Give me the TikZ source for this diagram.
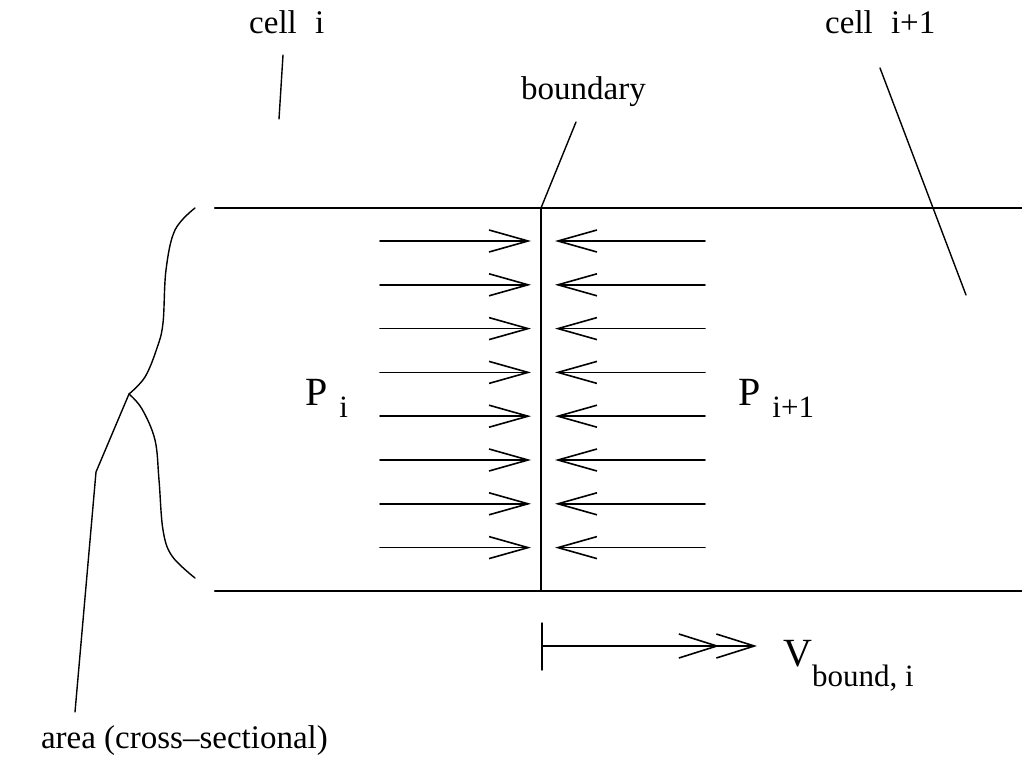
\documentclass[tikz,border=0pt]{standalone}
\usepackage{fontspec}
\setmainfont{Liberation Serif}
\usetikzlibrary{arrows.meta}

\begin{document}
\begin{tikzpicture}[x=1pt,y=-1pt,line cap=round,line join=round,
  lbl/.style={font=\fontsize{33}{38}\selectfont,inner sep=0pt},
  big/.style={font=\fontsize{40}{46}\selectfont,inner sep=0pt},
  wall/.style={line width=2.4pt},
  lead/.style={line width=1.4pt},
  push/.style={line width=1.6pt,-{Straight Barb[length=39pt,width=22pt,line width=1.6pt]}},
  flow/.style={line width=1.6pt,-{Straight Barb[length=38pt,width=24pt,sep=-4pt,line width=1.6pt]Straight Barb[length=38pt,width=24pt,line width=1.6pt]}}]
\useasboundingbox (0,0) rectangle (1022,762);
\draw[wall] (215,208) -- (1022,208);
\draw[wall] (215,591) -- (1022,591);
\coordinate (btop) at (541,208);
\coordinate (bbot) at (541,591);
\draw[line width=2pt] (btop) -- (bbot);
\foreach \k in {0,...,7}{
  \pgfmathsetmacro\yy{241+43.8*\k}
  \draw[push] (380,\yy) -- (531,\yy);
  \draw[push] (705,\yy) -- (555,\yy);
}
\coordinate (tip) at (129,394);
\draw[lead] plot[smooth,tension=0.6] coordinates {(195,208) (175,230) (166,270) (163,323) (157,348) (145,377) (tip)};
\draw[lead] plot[smooth,tension=0.6] coordinates {(tip) (142,409) (155,440) (159,480) (163,530) (172,556) (195,578)};
\node[lbl,anchor=base west] (celli) at (249,34) {cell\hspace{0.55em}i};
\node[lbl,anchor=base west] (cellj) at (825,34) {cell\hspace{0.55em}i+1};
\node[lbl,anchor=base east] (bnd) at (646,100) {boundary};
\node[lbl,anchor=base east] (area) at (328,748) {area (cross--sectional)};
\node[big,anchor=base west] (pl) at (305,405) {P\hspace{0.3em}\raisebox{-12pt}{\fontsize{31}{36}\selectfont i}};
\node[big,anchor=base west] (pr) at (738,405) {P\hspace{0.3em}\raisebox{-12pt}{\fontsize{31}{36}\selectfont i+1}};
\node[big,anchor=base west] (vb) at (783,666) {V\raisebox{-20pt}{\fontsize{31}{36}\selectfont bound, i}};
\coordinate (ci) at (283,55);
\coordinate (cie) at (279,119);
\draw[lead] (ci) -- (cie);
\coordinate (cj) at (880,68);
\coordinate (cje) at (966,295);
\draw[lead] (cj) -- (cje);
\coordinate (bd) at (576,122);
\draw[lead] (bd) -- (btop);
\coordinate (bend) at (96,472);
\coordinate (ae) at (75,712);
\draw[lead] (tip) -- (bend) -- (ae);
\coordinate (vs) at (542,646);
\draw[lead] (542,623) -- (542,670);
\draw[flow] (vs) -- (757,646);
\end{tikzpicture}
\end{document}
